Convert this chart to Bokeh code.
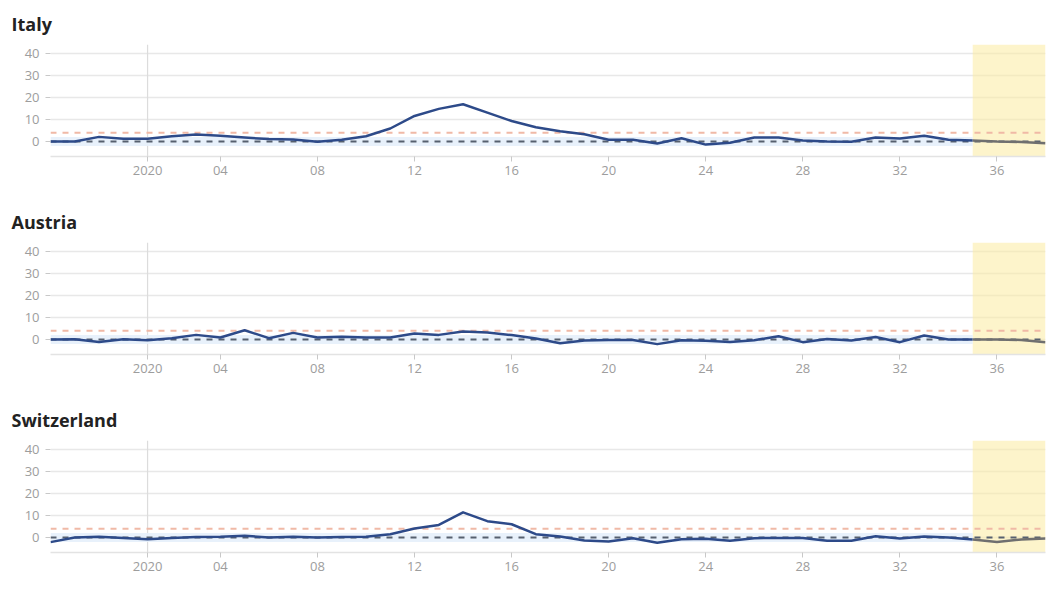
from bokeh.plotting import figure
from bokeh.models import Span, BoxAnnotation, FixedTicker
from bokeh.layouts import column
from bokeh.embed import file_html
from bokeh.resources import INLINE

# ISO weeks, 2019-W49 .. 2020-W38 (2019 weeks shown as -3..0)
weeks = [-3, -2, -1, 0, 1, 2, 3, 4, 5, 6, 7, 8, 9, 10, 11, 12, 13, 14, 15, 16,
         17, 18, 19, 20, 21, 22, 23, 24, 25, 26, 27, 28, 29, 30, 31, 32, 33,
         34, 35, 36, 37, 38]

countries = ["Italy", "Austria", "Switzerland"]

italy = [0, 0, 2.1, 1.2, 1.2, 2.4, 3.2, 2.6, 1.8, 1.1, 0.9, -0.1, 0.8, 2.4,
         5.9, 11.6, 14.8, 16.9, 13.1, 9.3, 6.5, 4.7, 3.3, 0.8, 0.8, -0.9, 1.5,
         -1.4, -0.6, 1.8, 1.8, 0.5, 0, -0.1, 1.8, 1.4, 2.6, 0.8, 0.5, 0, -0.2,
         -0.8]
austria = [0, 0.1, -1.1, 0.1, -0.3, 0.6, 2.1, 0.9, 4.2, 0.6, 3.0, 0.9, 1.2,
           0.9, 0.9, 2.7, 2.1, 3.6, 3.2, 2.0, 0.5, -1.7, -0.5, -0.2, -0.2,
           -2.1, -0.3, -0.6, -1.1, -0.3, 1.5, -1.2, 0.2, -0.5, 1.1, -1.2, 1.8,
           0, 0, 0, -0.2, -1.2]
switzerland = [-2.1, 0, 0.3, -0.2, -0.8, -0.2, 0.2, 0.3, 0.8, 0, 0.3, 0, 0.2,
               0.3, 1.5, 4.1, 5.7, 11.4, 7.4, 6.0, 1.5, 0.5, -1.4, -1.8, -0.3,
               -2.4, -0.8, -0.6, -1.5, -0.3, -0.2, -0.2, -1.5, -1.5, 0.6, -0.5,
               0.5, 0, -0.9, -2.0, -0.9, -0.5]

series = [italy, austria, switzerland]

tick_weeks = [1, 4, 8, 12, 16, 20, 24, 28, 32, 36]
tick_labels = ["2020", "04", "08", "12", "16", "20", "24", "28", "32", "36"]
y_ticks = [0, 10, 20, 30, 40]

normal_low = -2
normal_high = 2
threshold = 4
baseline = 0
year_start_week = 1
delay_start = 35

FONT = "Open Sans"


def make_panel(name, vals):
    p = figure(width=1054, height=198,
               x_range=(weeks[0], weeks[-1]), y_range=(-6.8, 44),
               output_backend="svg", toolbar_location=None,
               min_border_left=50, min_border_right=9,
               min_border_top=44, min_border_bottom=42,
               outline_line_color=None, background_fill_color="white",
               border_fill_color="white", title=name)

    t = p.title
    t.align = "left"
    t.offset = -39
    t.vertical_align = "top"
    t.standoff = 13
    t.text_font = FONT
    t.text_font_size = "18px"
    t.text_font_style = "bold"
    t.text_color = "#222222"

    # delay-adjusted period
    p.add_layout(BoxAnnotation(left=delay_start, fill_color="#fbeba0",
                               fill_alpha=0.55, line_color=None,
                               level="underlay"))
    # year boundary
    p.add_layout(Span(location=year_start_week, dimension="height",
                      line_color="#dcdcdc", line_width=1.2, level="underlay"))

    idx = weeks.index(delay_start)
    # normal range band
    p.varea(x=weeks[:idx + 1], y1=normal_low, y2=normal_high,
            fill_color="#e6effb", fill_alpha=0.9)

    # baseline and threshold lines
    xs = [weeks[0], weeks[-1]]
    p.line(xs, [threshold, threshold], line_color="#f0b9a6", line_width=2,
           line_dash="6 6")
    p.line(xs, [baseline, baseline], line_color="#56606f", line_width=2,
           line_dash="6 6")

    p.line(weeks[:idx + 1], vals[:idx + 1], line_color="#2d4a89",
           line_width=2.5, line_join="round")
    p.line(weeks[idx:], vals[idx:], line_color="#6f6f6f", line_width=2.5,
           line_join="round")

    # axes
    p.xgrid.visible = False
    p.ygrid.grid_line_color = "#e8e8e8"
    p.ygrid.grid_line_width = 1.5

    xa = p.xaxis[0]
    xa.ticker = FixedTicker(ticks=tick_weeks)
    xa.major_label_overrides = {w: lab for w, lab in zip(tick_weeks, tick_labels)}
    xa.axis_line_color = "#e3e3e3"
    xa.axis_line_width = 1.5
    xa.major_tick_line_color = "#c8c8c8"
    xa.major_tick_out = 5
    xa.major_tick_in = 0
    xa.minor_tick_line_color = None
    xa.major_label_text_font = FONT
    xa.major_label_text_font_size = "13px"
    xa.major_label_text_color = "#9d9d9d"
    xa.major_label_standoff = 4

    ya = p.yaxis[0]
    ya.ticker = FixedTicker(ticks=y_ticks)
    ya.axis_line_color = None
    ya.major_tick_line_color = "#c8c8c8"
    ya.major_tick_out = 5
    ya.major_tick_in = 0
    ya.minor_tick_line_color = None
    ya.major_label_text_font = FONT
    ya.major_label_text_font_size = "13px"
    ya.major_label_text_color = "#9d9d9d"
    ya.major_label_standoff = 6
    return p


panels = [make_panel(n, v) for n, v in zip(countries, series)]
layout = column(*panels, spacing=0)

open("out.html", "w").write(file_html(layout, INLINE))
